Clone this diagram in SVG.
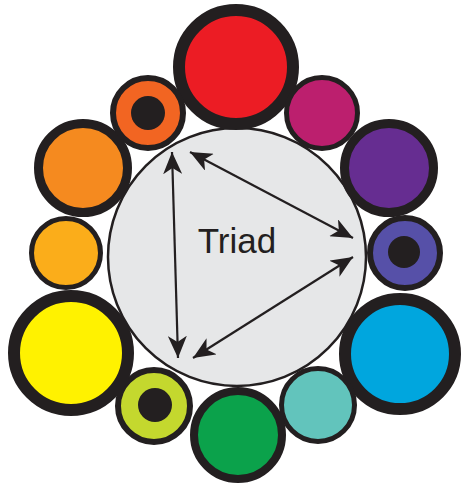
<svg xmlns="http://www.w3.org/2000/svg" width="462" height="486" viewBox="0 0 462 486">
<style>
.k{stroke:#231f20;}
.dot{fill:#231f20;}
.arr{stroke:#231f20;stroke-width:2.2;fill:none;marker-start:url(#ah);marker-end:url(#ah);}
.lbl{font-family:"Liberation Sans",Arial,sans-serif;font-size:35px;fill:#231f20;text-anchor:middle;}
</style>
<defs>
<marker id="ah" viewBox="0 0 22 19" refX="22" refY="9.5" markerWidth="22" markerHeight="19" markerUnits="userSpaceOnUse" orient="auto-start-reverse">
<path d="M0,0 L22,9.5 L0,19 L6,9.5 z" fill="#231f20"/>
</marker>
</defs>
<rect width="462" height="486" fill="#ffffff"/>
<g id="center">
<circle cx="237" cy="257" r="129" fill="#e6e7e8" class="k" stroke-width="2.5"/>
<text class="lbl" x="237" y="253">Triad</text>
</g>
<g id="red"><circle cx="236" cy="67" r="57" fill="#ec1c24" class="k" stroke-width="12"/></g>
<g id="magenta"><circle cx="322" cy="113" r="35.5" fill="#bc1f6e" class="k" stroke-width="5"/></g>
<g id="purple"><circle cx="389" cy="168" r="44.5" fill="#662d91" class="k" stroke-width="9"/></g>
<g id="blueviolet"><circle cx="405" cy="253" r="35" fill="#5650a8" class="k" stroke-width="6"/><circle cx="404" cy="252" r="16" class="dot"/></g>
<g id="cyan"><circle cx="400" cy="354" r="55" fill="#00a6de" class="k" stroke-width="12"/></g>
<g id="teal"><circle cx="318" cy="405" r="36.5" fill="#62c4bc" class="k" stroke-width="5"/></g>
<g id="green"><circle cx="238" cy="435" r="44" fill="#0ba24b" class="k" stroke-width="8"/></g>
<g id="yellowgreen"><circle cx="154" cy="406" r="36" fill="#c4d82e" class="k" stroke-width="6"/><circle cx="155" cy="405" r="17" class="dot"/></g>
<g id="yellow"><circle cx="71" cy="353" r="57" fill="#fff200" class="k" stroke-width="12"/></g>
<g id="amber"><circle cx="66" cy="253" r="34.5" fill="#fbad1a" class="k" stroke-width="5"/></g>
<g id="orange"><circle cx="83" cy="168" r="44.5" fill="#f58a1f" class="k" stroke-width="9"/></g>
<g id="redorange"><circle cx="148" cy="113" r="35" fill="#f26522" class="k" stroke-width="6"/><circle cx="148" cy="113" r="17" class="dot"/></g>
<g id="connectors">
<line class="arr" x1="172" y1="152" x2="178" y2="358"/>
<line class="arr" x1="190" y1="152" x2="353" y2="238"/>
<line class="arr" x1="353" y1="257" x2="193" y2="358"/>
</g>
</svg>
